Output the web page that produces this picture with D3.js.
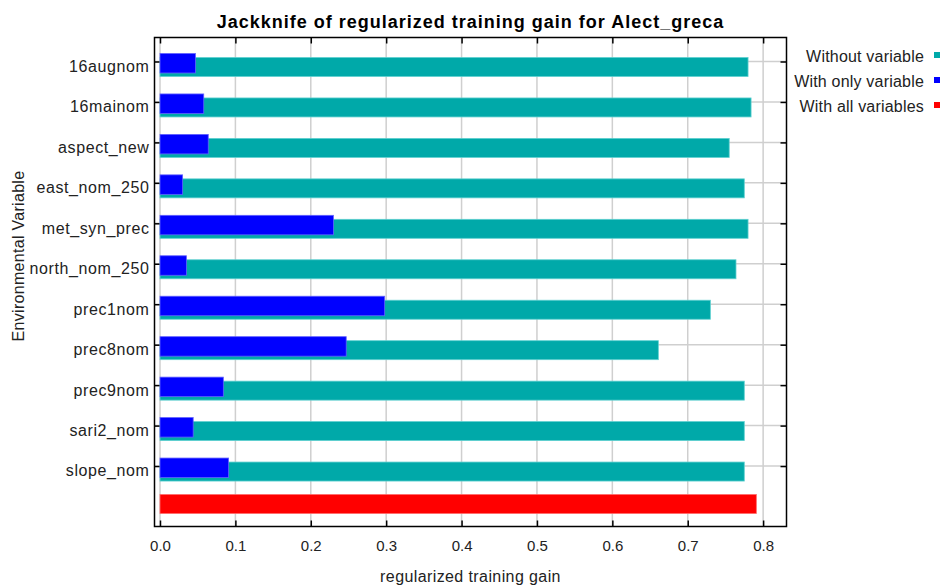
<!DOCTYPE html>
<html>
<head>
<meta charset="utf-8">
<script src="https://cdn.jsdelivr.net/npm/d3@7"></script>
<style>
  html, body { margin: 0; padding: 0; background: #fff; }
  svg { display: block; font-family: "Liberation Sans", Arial, sans-serif; }
</style>
</head>
<body>
<svg id="chart" width="940" height="588"></svg>
<script>
// Jackknife results for the Maxent model of Alect_greca
const variables = ["16augnom", "16mainom", "aspect_new", "east_nom_250", "met_syn_prec",
  "north_nom_250", "prec1nom", "prec8nom", "prec9nom", "sari2_nom", "slope_nom"];
const withoutVariable = [0.780, 0.784, 0.755, 0.775, 0.780, 0.764, 0.730, 0.661, 0.775, 0.775, 0.775];
const withOnlyVariable = [0.047, 0.058, 0.064, 0.030, 0.230, 0.035, 0.298, 0.247, 0.084, 0.044, 0.091];
const withAllVariables = 0.791;
const xTicks = [0.0, 0.1, 0.2, 0.3, 0.4, 0.5, 0.6, 0.7, 0.8];
const legendLabels = ["Without variable", "With only variable", "With all variables"];
const colors = { without: "#00a9a9", only: "#0000ff", all: "#ff0000" };
const ALL = "__all__";

const svg = d3.select("#chart");
const frame = { left: 154.5, right: 786.5, top: 37.5, bottom: 526.5 };

const x = d3.scaleLinear().domain([-0.0073, 0.8310]).range([frame.left, frame.right]);
const y = d3.scalePoint().domain([...variables, ALL]).range([61.5, 506.5]);

// grid
const grid = svg.append("g").attr("stroke", "#cfcfcf").attr("stroke-width", 1.5);
grid.selectAll("line.v").data(xTicks).join("line")
  .attr("x1", d => x(d)).attr("x2", d => x(d))
  .attr("y1", frame.top).attr("y2", frame.bottom);
grid.selectAll("line.h").data(variables).join("line")
  .attr("x1", frame.left).attr("x2", frame.right)
  .attr("y1", d => y(d)).attr("y2", d => y(d));

// bars
const rows = variables.map((v, i) => ({ v, without: withoutVariable[i], only: withOnlyVariable[i] }));
svg.append("g").selectAll("rect").data(rows).join("rect")
  .attr("x", x(0)).attr("y", d => y(d.v) - 4)
  .attr("width", d => x(d.without) - x(0)).attr("height", 19)
  .attr("fill", colors.without).attr("stroke", "#5fd0d0").attr("stroke-width", 0.8);
svg.append("g").selectAll("rect").data(rows).join("rect")
  .attr("x", x(0)).attr("y", d => y(d.v) - 8)
  .attr("width", d => x(d.only) - x(0)).attr("height", 19.5)
  .attr("fill", colors.only).attr("stroke", "#6060ff").attr("stroke-width", 0.8);
svg.append("rect")
  .attr("x", x(0)).attr("y", y(ALL) - 12)
  .attr("width", x(withAllVariables) - x(0)).attr("height", 19)
  .attr("fill", colors.all).attr("stroke", "#ff6a6a").attr("stroke-width", 0.8);

// frame
svg.append("rect")
  .attr("x", frame.left).attr("y", frame.top)
  .attr("width", frame.right - frame.left).attr("height", frame.bottom - frame.top)
  .attr("fill", "none").attr("stroke", "#000").attr("stroke-width", 1.5);

// axes with inward ticks on all four sides
const tickStyle = g => {
  g.select(".domain").remove();
  g.selectAll(".tick line").attr("stroke", "#000").attr("stroke-width", 1.5);
};
svg.append("g").attr("transform", `translate(0,${frame.bottom})`)
  .call(d3.axisBottom(x).tickValues(xTicks).tickSize(-6).tickPadding(14).tickFormat(d3.format(".1f")))
  .call(tickStyle)
  .call(g => g.selectAll("text").attr("font-size", 15).attr("fill", "#222")
    .attr("font-family", "Liberation Sans, Arial, sans-serif"));
svg.append("g").attr("transform", `translate(0,${frame.top})`)
  .call(d3.axisTop(x).tickValues(xTicks).tickSize(-6).tickFormat(""))
  .call(tickStyle);
svg.append("g").attr("transform", `translate(${frame.left},0)`)
  .call(d3.axisLeft(y).tickValues(variables).tickSize(-5).tickPadding(5))
  .call(tickStyle)
  .call(g => g.selectAll("text").attr("font-size", 16).attr("fill", "#222")
    .attr("letter-spacing", "0.6px").attr("dy", "0.62em")
    .attr("font-family", "Liberation Sans, Arial, sans-serif"));
svg.append("g").attr("transform", `translate(${frame.right},0)`)
  .call(d3.axisRight(y).tickValues(variables).tickSize(-6).tickFormat(""))
  .call(tickStyle);

// titles
svg.append("text")
  .attr("x", (frame.left + frame.right) / 2).attr("y", 28)
  .attr("text-anchor", "middle").attr("font-size", 18).attr("font-weight", "bold")
  .attr("letter-spacing", "1px").attr("fill", "#000")
  .text("Jackknife of regularized training gain for Alect_greca");
svg.append("text")
  .attr("x", (frame.left + frame.right) / 2).attr("y", 582)
  .attr("text-anchor", "middle").attr("font-size", 16).attr("letter-spacing", "0.4px")
  .attr("fill", "#222")
  .text("regularized training gain");
svg.append("text")
  .attr("transform", "translate(24,256) rotate(-90)")
  .attr("text-anchor", "middle").attr("font-size", 16).attr("letter-spacing", "0.3px")
  .attr("fill", "#222")
  .text("Environmental Variable");

// legend
const legend = svg.append("g");
const legendColors = [colors.without, colors.only, colors.all];
legendLabels.forEach((label, i) => {
  const ly = 57 + i * 25;
  legend.append("text").attr("x", 924).attr("y", ly + 5)
    .attr("text-anchor", "end").attr("font-size", 16).attr("letter-spacing", "0.2px")
    .attr("fill", "#222").text(label);
  legend.append("rect").attr("x", 934).attr("y", ly - 5).attr("width", 8).attr("height", 6)
    .attr("fill", legendColors[i]);
});
</script>
</body>
</html>
